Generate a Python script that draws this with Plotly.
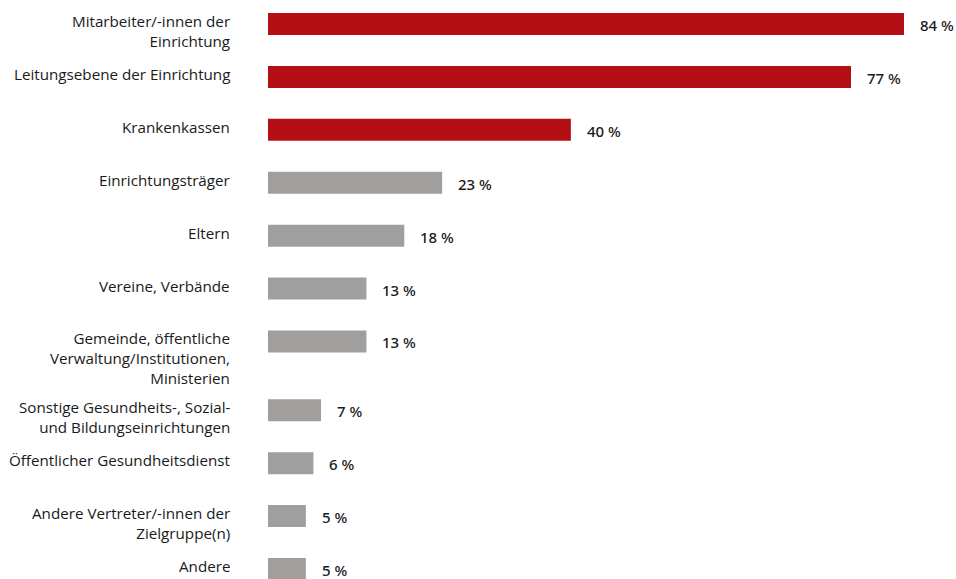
import plotly.graph_objects as go

# Survey results: share of respondents naming each partner (%)
categories = [
    "Mitarbeiter/-innen der<br>Einrichtung",
    "Leitungsebene der Einrichtung",
    "Krankenkassen",
    "Einrichtungsträger",
    "Eltern",
    "Vereine, Verbände",
    "Gemeinde, öffentliche<br>Verwaltung/Institutionen,<br>Ministerien",
    "Sonstige Gesundheits-, Sozial-<br>und Bildungseinrichtungen",
    "Öffentlicher Gesundheitsdienst",
    "Andere Vertreter/-innen der<br>Zielgruppe(n)",
    "Andere",
]
values = [84, 77, 40, 23, 18, 13, 13, 7, 6, 5, 5]
top_n_highlight = 3

RED = "#B30F14"
GREY = "#A09F9E"
FONT = "Open Sans"
LABEL_SIZE = 15.2

colors = [RED if i < top_n_highlight else GREY for i in range(len(values))]

# Row positions: one unit per row, with extra room after labels of 3+ lines
rows = []
pos = 0.0
for i, c in enumerate(categories):
    rows.append(pos)
    n_lines = c.count("<br>") + 1
    pos += 1.0 + (0.3 if n_lines >= 3 else 0.0)

span = rows[-1]
px_per_unit = (569 - 24) / span
y_top = -24 / px_per_unit
y_bottom = span + (579 - 569) / px_per_unit

fig = go.Figure(
    go.Bar(
        x=values,
        y=rows,
        orientation="h",
        marker=dict(color=colors, line=dict(width=0)),
        width=22 / px_per_unit,
        hoverinfo="skip",
    )
)

# value labels to the right of each bar
for y, v in zip(rows, values):
    fig.add_annotation(
        x=v, y=y, text=f"{v} %", showarrow=False,
        xanchor="left", yanchor="middle", xshift=14, yshift=-1,
        font=dict(family="Noto Sans", size=15, color="#1a1a1a", weight=500),
    )

# category labels, right-aligned and top-aligned with their bar
for y, c in zip(rows, categories):
    fig.add_annotation(
        x=0, y=y, text=c, showarrow=False,
        xanchor="right", yanchor="top", align="right",
        xshift=-36, yshift=15,
        font=dict(family=FONT, size=LABEL_SIZE, color="#1a1a1a"),
    )

fig.update_layout(
    width=956, height=579,
    margin=dict(l=268, r=0, t=0, b=0),
    paper_bgcolor="white", plot_bgcolor="white",
    showlegend=False,
    xaxis=dict(range=[0, 84 * 688 / 636], visible=False, fixedrange=True),
    yaxis=dict(range=[y_bottom, y_top], visible=False, fixedrange=True),
)

fig.write_html("out.html")
